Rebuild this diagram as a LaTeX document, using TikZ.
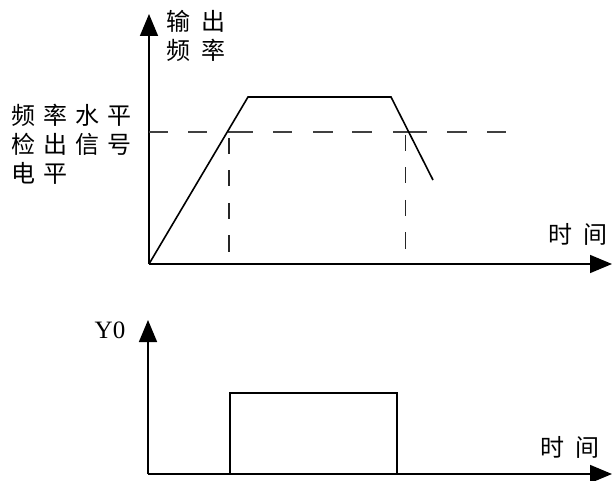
\documentclass[tikz,border=0pt]{standalone}
\usepackage{fontspec}
\setmainfont{Liberation Serif}
\newfontfamily\cjk{Noto Sans CJK SC}
\usetikzlibrary{arrows.meta,positioning}
\newcommand\gap{\hspace{8pt}}
\newcommand\wgap{\hspace{11pt}}

\begin{document}
\begin{tikzpicture}[x=1pt,y=-1pt,
axis/.style={-{Triangle[length=22pt,width=18pt]}, line width=1.6pt},
curve/.style={line width=1.6pt, line join=miter},
hdash/.style={dash pattern=on 19pt off 20pt on 19pt off 21pt on 25pt off 20pt on 19pt off 21pt on 20pt off 19pt on 20pt off 21pt on 34pt off 20pt on 20pt off 20pt on 19pt off 20pt, line width=1.6pt, black!75},
vdash/.style={dash pattern=on 16pt off 16.5pt, line width=1.6pt, black!85},
lbl/.style={inner sep=0pt, font=\cjk\fontsize{24}{29}\selectfont, align=left},
sig/.style={inner sep=0pt, font=\fontsize{25}{25}\selectfont}
]
\useasboundingbox (0,0) rectangle (613,481);
% upper chart
\coordinate (o1) at (149,264);
\coordinate (ytip1) at (149,14);
\coordinate (xtip1) at (612,264);
\coordinate (up) at (248,97);
\coordinate (down) at (391,97);
\coordinate (stop) at (433,180);
\coordinate (lvl) at (149,132);
\coordinate (lvlend) at (506,132);
\coordinate (onA) at (229,138);
\coordinate (onB) at (229,252);
\coordinate (offA) at (405.5,135);
\coordinate (offB) at (405.5,252);
\draw[axis] (o1) -- (ytip1);
\draw[axis] (o1) -- (xtip1);
\draw[hdash] (lvl) -- (lvlend);
\draw[vdash] (onA) -- (onB);
\draw[vdash] (offA) -- (offB);
\draw[curve] (o1) -- (up) -- (down) -- (stop);
\node[lbl, anchor=north west] (fout) at (166,10) {输\wgap 出\\频\wgap 率};
\node[lbl, anchor=north west] (flevel) at (11,104) {频\gap 率\gap 水\gap 平\\检\gap 出\gap 信\gap 号\\电\gap 平};
\node[lbl, anchor=north west] (time1) at (548,223) {时\wgap 间};
% lower chart
\coordinate (o2) at (148,474);
\coordinate (ytip2) at (148,320);
\coordinate (xtip2) at (612,474);
\coordinate (rise) at (230,474);
\coordinate (fall) at (397,474);
\draw[axis] (o2) -- (ytip2);
\draw[axis] (o2) -- (xtip2);
\draw[curve] (rise) -- (rise |- 0,393) -- (fall |- 0,393) -- (fall);
\node[sig, anchor=base] (y0) at (110,338) {Y0};
\node[lbl, anchor=north west] (time2) at (540,436) {时\wgap 间};
\end{tikzpicture}
\end{document}
